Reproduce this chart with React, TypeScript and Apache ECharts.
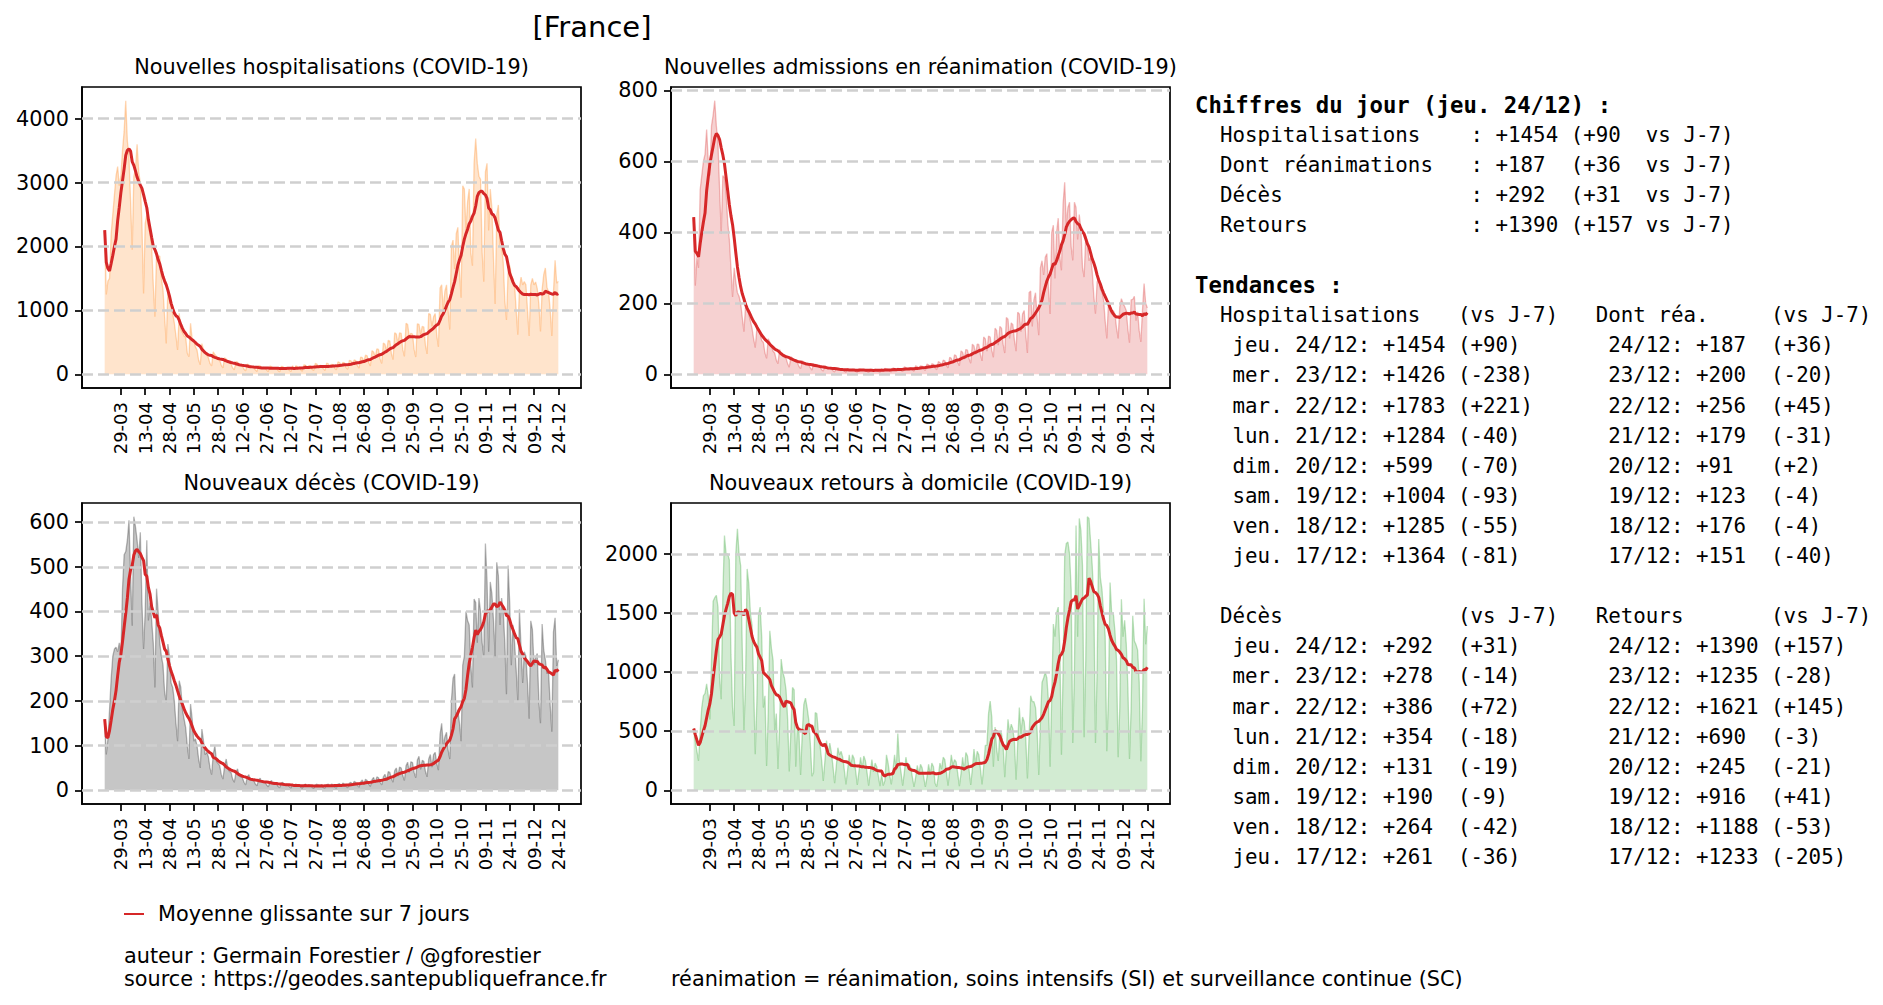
import React, { useEffect, useRef } from "react";
import * as echarts from "echarts";

// Daily values, one row per week (Thursday -> Wednesday), starting Thu 19-03-2020
const hospWeeks = [
  [2255, 1250, 1460, 1500, 2200, 2500, 2800],
  [3100, 3250, 2950, 3100, 3500, 3800, 4281],
  [3650, 3400, 2700, 1950, 3100, 3200, 3600],
  [3167, 3000, 2350, 1265, 2359, 2500, 2300],
  [2200, 2000, 1400, 901, 1891, 1850, 1850],
  [1500, 1318, 900, 484, 1318, 1200, 1050],
  [950, 800, 600, 380, 953, 700, 650],
  [600, 580, 330, 276, 797, 550, 520],
  [430, 380, 220, 150, 480, 380, 340],
  [300, 260, 170, 130, 350, 310, 280],
  [230, 220, 140, 100, 260, 240, 210],
  [180, 160, 100, 70, 200, 190, 150],
  [140, 130, 80, 55, 160, 150, 125],
  [115, 110, 70, 45, 135, 130, 95],
  [110, 100, 65, 45, 130, 120, 95],
  [105, 100, 60, 40, 125, 120, 94],
  [110, 105, 60, 45, 135, 75, 135],
  [120, 110, 70, 50, 150, 140, 95],
  [135, 130, 80, 60, 170, 160, 105],
  [140, 135, 85, 60, 175, 165, 115],
  [155, 150, 95, 70, 195, 185, 130],
  [185, 180, 105, 80, 220, 210, 175],
  [225, 215, 135, 95, 270, 260, 200],
  [300, 290, 180, 130, 370, 350, 270],
  [400, 390, 240, 170, 490, 470, 360],
  [530, 520, 320, 230, 650, 630, 480],
  [650, 640, 390, 280, 800, 780, 590],
  [640, 630, 390, 270, 790, 780, 630],
  [750, 740, 450, 320, 950, 940, 750],
  [900, 950, 600, 430, 1350, 1400, 1020],
  [1300, 1400, 1000, 700, 2000, 2100, 1650],
  [2200, 2300, 1600, 1200, 2950, 2900, 2250],
  [2700, 2900, 1900, 1700, 3300, 3688, 3300],
  [3100, 3050, 1900, 1450, 3167, 3300, 2250],
  [2900, 2600, 1800, 1100, 2500, 2650, 2000],
  [2000, 1750, 1150, 850, 1600, 1700, 1550],
  [1500, 1400, 1000, 620, 1350, 1520, 1400],
  [1450, 1400, 1000, 600, 1400, 1500, 1400],
  [1445, 1340, 1097, 669, 1324, 1562, 1664],
  [1364, 1285, 1004, 599, 1284, 1783, 1426],
  [1454],
];

const reaWeeks = [
  [443, 250, 330, 300, 520, 560, 600],
  [620, 690, 600, 560, 700, 730, 771],
  [700, 650, 520, 396, 560, 554, 510],
  [430, 380, 300, 218, 300, 260, 230],
  [220, 200, 160, 120, 190, 180, 170],
  [150, 130, 100, 75, 130, 125, 115],
  [95, 90, 60, 45, 100, 90, 80],
  [65, 60, 40, 30, 70, 60, 55],
  [48, 45, 30, 20, 50, 45, 42],
  [36, 33, 22, 16, 38, 34, 31],
  [28, 27, 18, 12, 30, 28, 25],
  [21, 20, 13, 9, 23, 21, 19],
  [17, 16, 10, 7, 18, 16, 14],
  [14, 14, 9, 6, 16, 13, 12],
  [14, 13, 8, 6, 16, 14, 13],
  [13, 12, 8, 5, 15, 13, 11],
  [14, 13, 8, 6, 16, 10, 17],
  [15, 14, 9, 7, 18, 16, 12],
  [17, 16, 11, 8, 21, 19, 13],
  [19, 18, 12, 9, 24, 22, 15],
  [24, 23, 15, 11, 29, 27, 18],
  [30, 28, 18, 13, 36, 33, 24],
  [40, 38, 25, 18, 48, 45, 31],
  [55, 52, 34, 24, 66, 62, 43],
  [70, 68, 44, 31, 85, 80, 56],
  [85, 84, 55, 38, 105, 100, 65],
  [108, 105, 68, 48, 130, 124, 82],
  [135, 130, 85, 60, 160, 155, 101],
  [145, 140, 95, 65, 175, 170, 120],
  [170, 180, 110, 60, 230, 235, 135],
  [210, 230, 160, 110, 300, 320, 280],
  [330, 340, 240, 170, 400, 420, 270],
  [400, 440, 330, 293, 480, 541, 420],
  [470, 485, 360, 321, 485, 470, 380],
  [450, 410, 300, 274, 390, 370, 320],
  [330, 290, 220, 171, 260, 270, 240],
  [232, 210, 150, 101, 200, 180, 170],
  [180, 170, 130, 101, 190, 213, 200],
  [191, 180, 127, 89, 210, 211, 220],
  [151, 176, 123, 91, 179, 256, 200],
  [187],
];

const decesWeeks = [
  [159, 80, 115, 180, 250, 300, 316],
  [320, 310, 330, 300, 450, 527, 534],
  [560, 604, 480, 368, 612, 590, 560],
  [520, 577, 420, 316, 400, 559, 380],
  [420, 380, 330, 230, 451, 400, 330],
  [300, 280, 220, 196, 327, 300, 240],
  [230, 200, 150, 110, 245, 230, 180],
  [160, 140, 100, 70, 193, 160, 110],
  [115, 100, 70, 50, 137, 110, 80],
  [85, 75, 50, 35, 80, 100, 65],
  [60, 55, 35, 25, 55, 70, 50],
  [42, 40, 25, 18, 40, 48, 32],
  [30, 28, 18, 12, 30, 35, 22],
  [25, 22, 14, 10, 24, 27, 18],
  [20, 18, 12, 8, 18, 22, 14],
  [16, 15, 9, 6, 16, 18, 11],
  [14, 13, 8, 5, 13, 10, 14],
  [12, 12, 7, 5, 12, 14, 8],
  [13, 11, 7, 4, 12, 14, 9],
  [12, 12, 6, 5, 13, 14, 8],
  [14, 13, 7, 5, 14, 15, 9],
  [16, 14, 9, 6, 16, 18, 12],
  [20, 18, 11, 7, 19, 23, 14],
  [25, 22, 14, 9, 24, 29, 17],
  [30, 28, 18, 12, 30, 36, 21],
  [42, 40, 26, 18, 44, 50, 32],
  [52, 50, 33, 22, 55, 63, 40],
  [64, 62, 40, 28, 68, 76, 47],
  [67, 65, 42, 30, 70, 80, 52],
  [80, 85, 60, 45, 125, 150, 100],
  [120, 130, 90, 70, 200, 250, 260],
  [160, 180, 150, 110, 280, 300, 400],
  [380, 370, 280, 230, 428, 420, 330],
  [430, 400, 330, 300, 552, 470, 310],
  [466, 440, 380, 300, 510, 480, 370],
  [430, 400, 330, 215, 503, 420, 280],
  [370, 330, 270, 200, 405, 320, 240],
  [310, 300, 240, 160, 379, 360, 280],
  [297, 306, 199, 150, 372, 314, 292],
  [261, 264, 190, 131, 354, 386, 278],
  [292],
];

const retoursWeeks = [
  [523, 420, 330, 250, 500, 700, 800],
  [820, 900, 800, 600, 1100, 1600, 1630],
  [1650, 1550, 950, 771, 1650, 2155, 2000],
  [2000, 1950, 1150, 700, 545, 2000, 2212],
  [2000, 1900, 1200, 500, 900, 1873, 1750],
  [1500, 1400, 900, 305, 750, 1477, 1550],
  [1300, 700, 800, 206, 650, 1350, 1200],
  [1100, 500, 650, 180, 550, 1110, 1000],
  [950, 850, 600, 160, 500, 870, 850],
  [200, 550, 480, 130, 480, 729, 780],
  [700, 600, 396, 120, 150, 657, 650],
  [480, 380, 250, 80, 250, 420, 310],
  [400, 320, 200, 60, 200, 360, 300],
  [330, 280, 170, 50, 170, 300, 200],
  [300, 270, 160, 45, 160, 280, 185],
  [290, 250, 150, 40, 150, 260, 155],
  [230, 200, 120, 35, 140, 40, 80],
  [300, 230, 127, 50, 170, 300, 170],
  [480, 243, 150, 40, 150, 280, 197],
  [220, 190, 110, 30, 110, 210, 140],
  [220, 190, 110, 30, 110, 220, 135],
  [230, 200, 60, 30, 120, 230, 180],
  [280, 260, 150, 40, 160, 300, 210],
  [260, 240, 140, 35, 140, 280, 165],
  [320, 290, 170, 45, 180, 350, 220],
  [330, 300, 180, 50, 200, 380, 380],
  [650, 755, 620, 200, 536, 350, 249],
  [500, 480, 380, 110, 350, 600, 485],
  [560, 520, 400, 90, 400, 700, 480],
  [620, 580, 430, 100, 450, 800, 750],
  [750, 700, 500, 130, 560, 912, 950],
  [1000, 950, 750, 200, 800, 1407, 1300],
  [1500, 1550, 1200, 300, 1000, 1986, 2089],
  [2100, 2000, 1700, 400, 1000, 2240, 1300],
  [2300, 2200, 1900, 450, 1100, 2315, 2300],
  [2100, 1900, 1600, 400, 1000, 2127, 1800],
  [1700, 1500, 1300, 330, 800, 1758, 1500],
  [1500, 1350, 1100, 280, 700, 1617, 1300],
  [1438, 1241, 875, 266, 693, 1476, 1263],
  [1233, 1188, 916, 245, 690, 1621, 1235],
  [1390],
];

const hosp = hospWeeks.flat();
const rea = reaWeeks.flat();
const deces = decesWeeks.flat();
const retours = retoursWeeks.flat();

const xTickLabels = [
  "29-03", "13-04", "28-04", "13-05", "28-05", "12-06", "27-06", "12-07", "27-07", "11-08",
  "26-08", "10-09", "25-09", "10-10", "25-10", "09-11", "24-11", "09-12", "24-12",
];
const hospYTicks = [0, 1000, 2000, 3000, 4000];
const reaYTicks = [0, 200, 400, 600, 800];
const decesYTicks = [0, 100, 200, 300, 400, 500, 600];
const retoursYTicks = [0, 500, 1000, 1500, 2000];

const trendDays = [
  "jeu. 24/12", "mer. 23/12", "mar. 22/12", "lun. 21/12",
  "dim. 20/12", "sam. 19/12", "ven. 18/12", "jeu. 17/12",
];

const pad2 = (n: number) => String(n).padStart(2, "0");
const dates = hosp.map((_, i) => {
  const d = new Date(Date.UTC(2020, 2, 19 + i));
  return pad2(d.getUTCDate()) + "-" + pad2(d.getUTCMonth() + 1);
});
const xTickIdx = xTickLabels.map((l) => dates.indexOf(l));

const rolling7 = (a: number[]) =>
  a.map((_, i) => {
    const w = a.slice(Math.max(0, i - 6), i + 1);
    return w.reduce((s, v) => s + v, 0) / w.length;
  });

const sgn = (v: number) => (v >= 0 ? "+" : "") + v;

function buildTextRows() {
  const last = hosp.length - 1;
  const rows: { text: string; bold: boolean }[] = [];
  rows.push({ text: "Chiffres du jour (jeu. 24/12) :", bold: true });
  const summary: [string, number[]][] = [
    ["Hospitalisations", hosp],
    ["Dont réanimations", rea],
    ["Décès", deces],
    ["Retours", retours],
  ];
  summary.forEach(([label, s]) => {
    rows.push({
      text:
        "  " + label.padEnd(20) + ": " + sgn(s[last]).padEnd(5) + " (" +
        sgn(s[last] - s[last - 7]).padEnd(4) + " vs J-7)",
      bold: false,
    });
  });
  rows.push({ text: "", bold: false });
  rows.push({ text: "Tendances :", bold: true });
  const block = (l1: string, a: number[], l2: string, b: number[]) => {
    rows.push({
      text: ("  " + l1).padEnd(21) + "(vs J-7)".padEnd(11) + l2.padEnd(14) + "(vs J-7)",
      bold: false,
    });
    trendDays.forEach((day, j) => {
      const i = last - j;
      const left = "   " + day + ": " + sgn(a[i]).padEnd(5) + " (" + sgn(a[i] - a[i - 7]) + ")";
      const right = day.slice(5) + ": " + sgn(b[i]).padEnd(5) + " (" + sgn(b[i] - b[i - 7]) + ")";
      rows.push({ text: left.padEnd(33) + right, bold: false });
    });
  };
  block("Hospitalisations", hosp, "Dont réa.", rea);
  rows.push({ text: "", bold: false });
  block("Décès", deces, "Retours", retours);
  return rows;
}

const FONT = "DejaVu Sans";
const MONO = "DejaVu Sans Mono";

function buildOption() {
  const panels = [
    { title: "Nouvelles hospitalisations (COVID-19)", data: hosp, rgb: "255,127,14", fa: 0.3, la: 0.3, ticks: hospYTicks, left: 82, top: 87 },
    { title: "Nouvelles admissions en réanimation (COVID-19)", data: rea, rgb: "214,39,40", fa: 0.3, la: 0.3, ticks: reaYTicks, left: 671, top: 87 },
    { title: "Nouveaux décès (COVID-19)", data: deces, rgb: "0,0,0", fa: 0.32, la: 0.27, ticks: decesYTicks, left: 82, top: 503 },
    { title: "Nouveaux retours à domicile (COVID-19)", data: retours, rgb: "44,160,44", fa: 0.3, la: 0.3, ticks: retoursYTicks, left: 671, top: 503 },
  ];
  const GW = 499;
  const GH = 301;

  const grid = panels.map((p) => ({
    left: p.left, top: p.top, width: GW, height: GH,
    show: true, borderColor: "#000", borderWidth: 1.7, backgroundColor: "transparent",
  }));

  const xAxis = panels.map((_, i) => ({
    type: "value", gridIndex: i, min: -14, max: 294,
    axisLine: { show: true, onZero: false, lineStyle: { color: "#000", width: 1.7 } },
    axisTick: { show: true, length: 7, customValues: xTickIdx, lineStyle: { color: "#000", width: 1.7 } },
    axisLabel: {
      show: true, customValues: xTickIdx, rotate: 90, margin: 14,
      formatter: (v: number) => dates[Math.round(v)],
      fontSize: 18, fontFamily: FONT, color: "#000",
    },
    splitLine: { show: false },
  }));

  const yAxis = panels.map((p, i) => {
    const mx = Math.max(...p.data);
    return {
      type: "value", gridIndex: i, min: -0.05 * mx, max: 1.05 * mx,
      axisLine: { show: true, onZero: false, lineStyle: { color: "#000", width: 1.7 } },
      axisTick: { show: true, length: 7, customValues: p.ticks, lineStyle: { color: "#000", width: 1.7 } },
      axisLabel: {
        show: true, customValues: p.ticks, margin: 13, fontSize: 20.8, fontFamily: FONT, color: "#000",
        formatter: (v: number) => String(Math.round(v)),
      },
      splitLine: { show: false },
    };
  });

  const series: any[] = [];
  panels.forEach((p, i) => {
    series.push({
      type: "line", xAxisIndex: i, yAxisIndex: i, symbol: "none", showSymbol: false,
      data: p.data.map((v, j) => [j, v]),
      lineStyle: { color: `rgba(${p.rgb},${p.la})`, width: 1.3 },
      areaStyle: { color: `rgba(${p.rgb},${p.fa})`, origin: "auto" },
      z: 2,
      markLine: {
        silent: true, symbol: ["none", "none"], label: { show: false },
        lineStyle: { color: "#cfcfcf", type: [11, 5], width: 2.6 },
        data: p.ticks.map((v) => ({ yAxis: v })),
      },
    });
    series.push({
      type: "line", xAxisIndex: i, yAxisIndex: i, symbol: "none", showSymbol: false,
      data: rolling7(p.data).map((v, j) => [j, v]),
      lineStyle: { color: "#d62728", width: 3 },
      z: 3,
    });
  });

  const graphic: any[] = [];
  graphic.push({
    type: "text", x: 592, y: 27,
    style: { text: "[France]", fontSize: 29, fontFamily: FONT, fill: "#000", align: "center", verticalAlign: "middle" },
  });
  panels.forEach((p) => {
    graphic.push({
      type: "text", x: p.left + GW / 2, y: p.top - 20,
      style: { text: p.title, fontSize: 20.8, fontFamily: FONT, fill: "#000", align: "center", verticalAlign: "middle" },
    });
  });

  const rows = buildTextRows();
  const CW = 20.8 * 0.6021;
  rows.forEach((r, ri) => {
    const fs = r.bold ? 22.3 : 20.8;
    const cw = r.bold ? fs * 0.6021 : CW;
    const re = /\S+(?: \S+)*/g;
    let m: RegExpExecArray | null;
    while ((m = re.exec(r.text)) !== null) {
      graphic.push({
        type: "text", x: 1195 + m.index * cw, y: 104.5 + ri * 30.1,
        style: {
          text: m[0], fontSize: fs, fontFamily: MONO, fontWeight: r.bold ? "bold" : "normal",
          fill: "#000", align: "left", verticalAlign: "middle",
        },
      });
    }
  });

  graphic.push({ type: "line", shape: { x1: 124, y1: 914, x2: 144, y2: 914 }, style: { stroke: "#d62728", lineWidth: 2 } });
  graphic.push({
    type: "text", x: 158, y: 914,
    style: { text: "Moyenne glissante sur 7 jours", fontSize: 20.8, fontFamily: FONT, fill: "#000", verticalAlign: "middle" },
  });
  graphic.push({
    type: "text", x: 124, y: 956,
    style: { text: "auteur : Germain Forestier / @gforestier", fontSize: 20.8, fontFamily: FONT, fill: "#000", verticalAlign: "middle" },
  });
  graphic.push({
    type: "text", x: 124, y: 979,
    style: { text: "source : https://geodes.santepubliquefrance.fr", fontSize: 20.8, fontFamily: FONT, fill: "#000", verticalAlign: "middle" },
  });
  graphic.push({
    type: "text", x: 671, y: 979,
    style: {
      text: "réanimation = réanimation, soins intensifs (SI) et surveillance continue (SC)",
      fontSize: 20.8, fontFamily: FONT, fill: "#000", verticalAlign: "middle",
    },
  });

  return {
    animation: false,
    backgroundColor: "#fff",
    textStyle: { fontFamily: FONT },
    grid, xAxis, yAxis, series, graphic,
  };
}

export default function App() {
  const ref = useRef<HTMLDivElement>(null);
  useEffect(() => {
    if (!ref.current) return;
    const chart = echarts.init(ref.current, null, { renderer: "svg" });
    chart.setOption(buildOption() as any);
    return () => chart.dispose();
  }, []);
  return (
    <div
      ref={ref}
      style={{ position: "fixed", left: 0, top: 0, width: 1883, height: 1005, background: "#fff" }}
    />
  );
}
